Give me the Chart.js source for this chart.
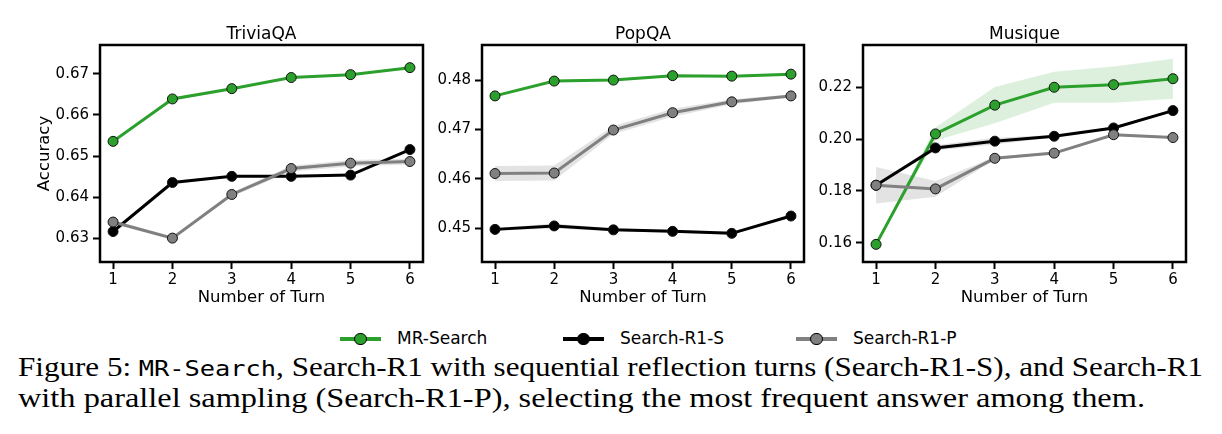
<!DOCTYPE html>
<html><head><meta charset="utf-8">
<script src="https://cdn.jsdelivr.net/npm/chart.js@4.4.0/dist/chart.umd.min.js"></script>
<style>
html,body{margin:0;padding:0;background:#fff;}
body{width:1222px;height:434px;overflow:hidden;position:relative;font-family:"DejaVu Sans",sans-serif;}
canvas{position:absolute;top:0;}
.leg{position:absolute;top:330px;height:18px;}
.leg .ln{position:absolute;left:0;top:7px;width:41px;height:4px;}
.leg .mk{position:absolute;left:14px;top:2.5px;width:10.5px;height:10.5px;border:1.5px solid #000;border-radius:50%;}
.leg .tx{position:absolute;left:57px;top:-2px;font-family:"DejaVu Sans";font-size:17px;white-space:nowrap;color:#000;}
.cap{position:absolute;left:18px;white-space:nowrap;font-family:"Liberation Serif","DejaVu Serif",serif;font-size:27px;line-height:27px;color:#000;transform-origin:0 0;}
.cap .tt{font-family:"DejaVu Sans Mono",monospace;font-size:22px;}
</style></head>
<body>
<canvas id="c1" width="430" height="310" style="left:0"></canvas>
<canvas id="c2" width="390" height="310" style="left:430px"></canvas>
<canvas id="c3" width="412" height="310" style="left:810px"></canvas>

<div class="leg" style="left:340px"><div class="ln" style="background:#2ca02c"></div><div class="mk" style="background:#2ca02c"></div><div class="tx">MR-Search</div></div>
<div class="leg" style="left:563px"><div class="ln" style="background:#000"></div><div class="mk" style="background:#000"></div><div class="tx">Search-R1-S</div></div>
<div class="leg" style="left:796px"><div class="ln" style="background:#808080"></div><div class="mk" style="background:#808080"></div><div class="tx">Search-R1-P</div></div>

<div class="cap" id="cap1" style="top:354px">Figure 5: <span class="tt">MR-Search</span>, Search-R1 with sequential reflection turns (Search-R1-S), and Search-R1</div>
<div class="cap" id="cap2" style="top:385px">with parallel sampling (Search-R1-P), selecting the most frequent answer among them.</div>

<script>
// ---------- data ----------
const turns = [1, 2, 3, 4, 5, 6];
const seriesNames = ["MR-Search", "Search-R1-S", "Search-R1-P"];

// TriviaQA
const triviaMR  = [0.6536, 0.6639, 0.6664, 0.6691, 0.6698, 0.6715];
const triviaS   = [0.6317, 0.6436, 0.6451, 0.6451, 0.6454, 0.6516];
const triviaP   = [0.6340, 0.6301, 0.6407, 0.6470, 0.6483, 0.6487];
const triviaMRErr = [0.0005, 0.0004, 0.0003, 0.0002, 0.0002, 0.0002];
const triviaSErr  = [0.0003, 0.0004, 0.0002, 0.0002, 0.0002, 0.0002];
const triviaPErr  = [0.0005, 0.0004, 0.0005, 0.0007, 0.0008, 0.0007];
const triviaTicks = [0.63, 0.64, 0.65, 0.66, 0.67];

// PopQA
const popMR  = [0.4768, 0.4798, 0.4800, 0.4809, 0.4808, 0.4812];
const popS   = [0.4498, 0.4505, 0.4497, 0.4494, 0.4490, 0.4525];
const popP   = [0.4611, 0.4612, 0.4699, 0.4734, 0.4756, 0.4768];
const popMRErr = [0.0002, 0.0002, 0.0002, 0.0002, 0.0002, 0.0003];
const popSErr  = [0.0003, 0.0005, 0.0003, 0.0003, 0.0003, 0.0003];
const popPErr  = [0.0015, 0.0015, 0.0008, 0.0008, 0.0005, 0.0003];
const popTicks = [0.45, 0.46, 0.47, 0.48];

// Musique
const musMR  = [0.1594, 0.2020, 0.2131, 0.2200, 0.2210, 0.2233];
const musS   = [0.1822, 0.1966, 0.1992, 0.2011, 0.2043, 0.2110];
const musP   = [0.1822, 0.1808, 0.1926, 0.1946, 0.2017, 0.2006];
const musMRErr = [0.0005, 0.0025, 0.0070, 0.0060, 0.0070, 0.0077];
const musSErr  = [0.0005, 0.0010, 0.0013, 0.0005, 0.0005, 0.0005];
const musPErr  = [0.0070, 0.0030, 0.0005, 0.0004, 0.0004, 0.0004];
const musTicks = [0.16, 0.18, 0.20, 0.22];

// ---------- styling ----------
const colors = ["#2ca02c", "#000000", "#808080"];
const bandColors = ["rgba(44,160,44,0.16)", "rgba(0,0,0,0.12)", "rgba(128,128,128,0.22)"];

function pts(vals) { return turns.map((t, i) => ({x: t, y: vals[i]})); }

function makeDatasets(means, errs) {
  const ds = [];
  means.forEach((m, k) => {
    ds.push({label: seriesNames[k] + " lo", data: pts(m.map((v, i) => v - errs[k][i])),
      borderWidth: 0, pointRadius: 0, fill: false, order: 20 + k, borderColor: "transparent"});
    ds.push({label: seriesNames[k] + " hi", data: pts(m.map((v, i) => v + errs[k][i])),
      borderWidth: 0, pointRadius: 0, fill: "-1", backgroundColor: bandColors[k], order: 20 + k, borderColor: "transparent"});
  });
  const orders = [3, 2, 1];
  means.forEach((m, k) => {
    ds.push({label: seriesNames[k], data: pts(m), borderColor: colors[k], backgroundColor: colors[k],
      borderWidth: 3, pointRadius: 5, pointBorderWidth: 1, pointBorderColor: "#111",
      pointBackgroundColor: colors[k], fill: false, tension: 0, order: orders[k]});
  });
  return ds;
}

const framePlugin = {
  id: "frame",
  afterDraw(chart, args, opts) {
    const {ctx, chartArea: a} = chart;
    ctx.save();
    ctx.strokeStyle = "#000"; ctx.lineWidth = 2.5;
    ctx.strokeRect(a.left, a.top, a.right - a.left, a.bottom - a.top);
    ctx.fillStyle = "#000";
    ctx.font = "17px 'DejaVu Sans'";
    ctx.textAlign = "center"; ctx.textBaseline = "alphabetic";
    ctx.fillText(opts.text, (a.left + a.right) / 2, 39);
    ctx.restore();
  }
};

function makeChart(id, title, means, errs, yTicks, ymin, ymax, yWidth, padRight, yTitle) {
  const tickFont = {family: "DejaVu Sans", size: 15};
  new Chart(document.getElementById(id), {
    type: "line",
    data: {datasets: makeDatasets(means, errs)},
    plugins: [framePlugin],
    options: {
      responsive: false, animation: false,
      layout: {padding: {left: 0, right: padRight, top: 45, bottom: 2}},
      plugins: {legend: {display: false}, tooltip: {enabled: false}, frame: {text: title}},
      scales: {
        x: {
          type: "linear", min: 0.78, max: 6.22,
          afterBuildTicks: s => { s.ticks = turns.map(v => ({value: v})); },
          afterFit: s => { s.height = 46; },
          border: {display: false},
          grid: {display: true, drawOnChartArea: false, drawTicks: true, tickLength: 7, tickWidth: 2, tickColor: "#000"},
          ticks: {color: "#000", font: tickFont, padding: 2, maxRotation: 0, callback: v => String(v)},
          title: {display: true, text: "Number of Turn", color: "#000", font: {family: "DejaVu Sans", size: 16.5}, padding: {top: 0, bottom: 0}}
        },
        y: {
          min: ymin, max: ymax,
          afterBuildTicks: s => { s.ticks = yTicks.map(v => ({value: v})); },
          afterFit: s => { s.width = yWidth; },
          border: {display: false},
          grid: {display: true, drawOnChartArea: false, drawTicks: true, tickLength: 7, tickWidth: 2, tickColor: "#000"},
          ticks: {color: "#000", font: tickFont, padding: 4, callback: v => v.toFixed(2)},
          title: {display: !!yTitle, text: yTitle || "", color: "#000", font: {family: "DejaVu Sans", size: 16.5}, padding: {top: 35, bottom: 0}}
        }
      }
    }
  });
}

makeChart("c1", "TriviaQA", [triviaMR, triviaS, triviaP], [triviaMRErr, triviaSErr, triviaPErr], triviaTicks, 0.6243, 0.6770, 100, 7, "Accuracy");
makeChart("c2", "PopQA", [popMR, popS, popP], [popMRErr, popSErr, popPErr], popTicks, 0.4432, 0.4871, 52, 16, null);
makeChart("c3", "Musique", [musMR, musS, musP], [musMRErr, musSErr, musPErr], musTicks, 0.1526, 0.2363, 53, 36, null);

// fit caption lines to the reference widths
function fitLine(id, target) {
  const el = document.getElementById(id);
  const w = el.getBoundingClientRect().width;
  el.style.transform = "scaleX(" + (target / w) + ")";
}
fitLine("cap1", 1185);
fitLine("cap2", 1127);
</script>
</body></html>
